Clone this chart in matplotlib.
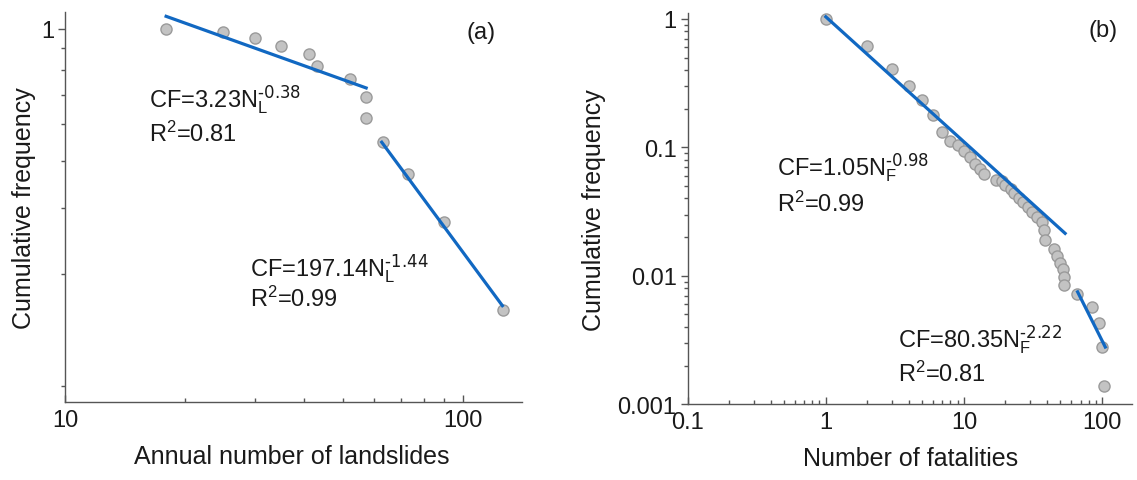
import matplotlib
matplotlib.use("Agg")
import matplotlib.pyplot as plt
from matplotlib.ticker import FixedLocator, NullFormatter, FixedFormatter

plt.rcParams['font.family'] = ['Liberation Sans', 'DejaVu Sans']
plt.rcParams['mathtext.default'] = 'regular'

# (a) annual number of landslides vs cumulative frequency
landslides = [18, 25, 30, 35, 41, 43, 52, 57, 57, 63, 73, 90, 126]
cf_landslides = [1.0, 0.982, 0.943, 0.901, 0.855, 0.797, 0.734, 0.659, 0.579, 0.500, 0.410, 0.305, 0.178]
fit_a1_x = [17.96, 57.2]
fit_a1_y = [1.079, 0.695]
fit_a2_x = [62.6, 125.9]
fit_a2_y = [0.498, 0.1825]

# (b) number of fatalities vs cumulative frequency
fatalities = [1, 2, 3, 4, 5, 6, 7, 8, 9, 10, 11, 12, 13, 14, 17, 19, 20, 22, 23, 25, 27, 29,
              31, 34, 37, 38, 39, 45, 47, 50, 52, 53, 53, 66, 85, 95, 100, 104]
cf_fatalities = [1.0, 0.612, 0.407, 0.302, 0.235, 0.178, 0.132, 0.111, 0.1035, 0.093, 0.084,
                 0.0744, 0.0677, 0.0622, 0.0555, 0.0542, 0.051, 0.0472, 0.0439, 0.0402, 0.0378,
                 0.0346, 0.0316, 0.0289, 0.0264, 0.0227, 0.019, 0.0161, 0.0143, 0.0126, 0.0112,
                 0.0098, 0.0085, 0.0072, 0.0057, 0.0043, 0.0028, 0.0014]
fit_b1_x = [1.0, 54.1]
fit_b1_y = [1.037, 0.0214]
fit_b2_x = [66.6, 105.7]
fit_b2_y = [0.0075, 0.00279]

W, H = 1137, 481
fig = plt.figure(figsize=(W / 100, H / 100), dpi=100)

def frac(x, y):
    return x / W, 1 - y / H

txt = '#1a1a1a'
spine_c = '#555555'
blue = '#1168c2'
pt_face, pt_edge = '#c3c3c3', '#9a9a9a'

ax1 = fig.add_axes([65 / W, 1 - 403 / H, 456.7 / W, 389.7 / H])
ax2 = fig.add_axes([687.7 / W, 1 - 405.3 / H, 444.3 / W, 391.3 / H])

for ax in (ax1, ax2):
    ax.set_xscale('log')
    ax.set_yscale('log')
    for s in ('top', 'right'):
        ax.spines[s].set_visible(False)
    for s in ('left', 'bottom'):
        ax.spines[s].set_color(spine_c)
        ax.spines[s].set_linewidth(1.0)
    ax.tick_params(axis='x', which='both', direction='in', colors=spine_c, labelcolor=txt,
                   labelsize=17, pad=5)
    ax.tick_params(axis='x', which='major', length=5, width=1)
    ax.tick_params(axis='x', which='minor', length=3, width=1)
    ax.tick_params(axis='y', which='both', direction='out', colors=spine_c, labelcolor=txt,
                   labelsize=17, pad=3)
    ax.tick_params(axis='y', which='major', length=5, width=1)
    ax.tick_params(axis='y', which='minor', length=3, width=1)

# panel (a)
ax1.plot(landslides, cf_landslides, 'o', ms=8, mfc=pt_face, mec=pt_edge, mew=1, zorder=3)
ax1.plot(fit_a1_x, fit_a1_y, color=blue, lw=2.3, zorder=4)
ax1.plot(fit_a2_x, fit_a2_y, color=blue, lw=2.3, zorder=4)
ax1.set_xlim(10, 140.8)
ax1.set_ylim(0.101, 1.106)
ax1.xaxis.set_major_locator(FixedLocator([10, 100]))
ax1.xaxis.set_major_formatter(FixedFormatter(['10', '100']))
ax1.xaxis.set_minor_locator(FixedLocator([20, 30, 40, 50, 60, 70, 80, 90]))
ax1.xaxis.set_minor_formatter(NullFormatter())
ax1.yaxis.set_major_locator(FixedLocator([1]))
ax1.yaxis.set_major_formatter(FixedFormatter(['1']))
ax1.yaxis.set_minor_locator(FixedLocator([k / 9 for k in range(1, 9)]))
ax1.yaxis.set_minor_formatter(NullFormatter())
ax1.set_xlabel('Annual number of landslides', fontsize=18, color=txt)
ax1.set_ylabel('Cumulative frequency', fontsize=18, color=txt)
ax1.xaxis.set_label_coords(0.497, -0.108)
ax1.yaxis.set_label_coords(-0.063, 0.5)

# panel (b)
ax2.plot(fatalities, cf_fatalities, 'o', ms=8, mfc=pt_face, mec=pt_edge, mew=1, zorder=3)
ax2.plot(fit_b1_x, fit_b1_y, color=blue, lw=2.3, zorder=4)
ax2.plot(fit_b2_x, fit_b2_y, color=blue, lw=2.3, zorder=4)
ax2.set_xlim(0.1, 165)
ax2.set_ylim(0.001, 1.11)
ax2.xaxis.set_major_locator(FixedLocator([0.1, 1, 10, 100]))
ax2.xaxis.set_major_formatter(FixedFormatter(['0.1', '1', '10', '100']))
ax2.xaxis.set_minor_locator(FixedLocator([m * d for d in (0.1, 1, 10) for m in range(2, 10)]))
ax2.xaxis.set_minor_formatter(NullFormatter())
ax2.yaxis.set_major_locator(FixedLocator([0.001, 0.01, 0.1, 1]))
ax2.yaxis.set_major_formatter(FixedFormatter(['0.001', '0.01', '0.1', '1']))
ax2.yaxis.set_minor_locator(FixedLocator([m * d for d in (0.001, 0.01, 0.1) for m in range(2, 10)]))
ax2.yaxis.set_minor_formatter(NullFormatter())
ax2.set_xlabel('Number of fatalities', fontsize=18, color=txt)
ax2.set_ylabel('Cumulative frequency', fontsize=18, color=txt)
ax2.xaxis.set_label_coords(0.501, -0.1066)
ax2.yaxis.set_label_coords(-0.184, 0.5)

# annotations
fs = 17
notes = [
    (149, 106.7, r'CF=3.23N$_{L}^{\text{-0.38}}$'),
    (149, 141.7, r'R$^{2}$=0.81'),
    (250, 276, r'CF=197.14N$_{L}^{\text{-1.44}}$'),
    (250, 307, r'R$^{2}$=0.99'),
    (777, 175, r'CF=1.05N$_{F}^{\text{-0.98}}$'),
    (777, 211.7, r'R$^{2}$=0.99'),
    (898.5, 346.7, r'CF=80.35N$_{F}^{\text{-2.22}}$'),
    (898.5, 381.7, r'R$^{2}$=0.81'),
]
for x, y, s in notes:
    fx, fy = frac(x, y)
    fig.text(fx, fy, s, fontsize=fs, color=txt, ha='left', va='baseline')

fx, fy = frac(481, 33)
fig.text(fx, fy, '(a)', fontsize=17, color=txt, ha='center', va='center')
fx, fy = frac(1103, 31)
fig.text(fx, fy, '(b)', fontsize=17, color=txt, ha='center', va='center')

fig.savefig('out.png', dpi=100)
